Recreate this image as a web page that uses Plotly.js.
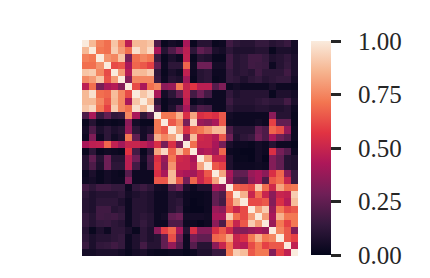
<!DOCTYPE html>
<html>
<head>
<meta charset="utf-8">
<script src="https://cdn.plot.ly/plotly-3.0.1.min.js"></script>
<style>html,body{margin:0;padding:0;background:#fff}</style>
</head>
<body>
<div id="chart" style="width:430px;height:278px"></div>
<script>
// upper triangle of the symmetric matrix: each row starts at its diagonal cell
const r00=[1,.87,.74,.7,.9,.76,.47,.87,.87,.9,.2,.02,.05,.03,.42,.02,.1,.1,.02,.03,.17,.12,.1,.1,.14,.14,.1,.12,.15,.05];
const r01=[1,.72,.7,.92,.8,.7,.97,.87,.95,.42,.1,.2,.32,.47,.12,.25,.2,.07,.05,.12,.08,.08,.08,.1,.1,.02,.07,.07,.05];
const r02=[1,.78,.75,.9,.3,.7,.75,.72,.15,.02,.07,.03,.48,.02,.1,.08,.02,.02,.17,.1,.12,.17,.17,.14,.08,.1,.13,.07];
const r03=[1,.62,.64,.42,.68,.65,.6,.25,.03,.12,.12,.68,.04,.28,.28,.05,.05,.17,.1,.12,.17,.16,.15,.03,.1,.14,.07];
const r04=[1,.8,.45,.88,.87,.92,.13,.02,.07,.04,.48,.03,.1,.12,.03,.03,.14,.1,.12,.1,.17,.12,.12,.12,.17,.07];
const r05=[1,.33,.75,.75,.75,.15,.03,.1,.08,.4,.02,.1,.12,.02,.03,.14,.12,.08,.12,.14,.1,.12,.14,.14,.05];
const r06=[1,.62,.42,.7,.75,.35,.38,.72,.5,.57,.47,.47,.22,.32,.03,.05,.03,.03,.03,.03,.07,.03,.03,.02];
const r07=[1,.9,.97,.42,.05,.12,.25,.5,.18,.28,.18,.03,.03,.13,.08,.1,.1,.1,.1,.02,.08,.08,.05];
const r08=[1,.87,.12,.02,.05,.05,.47,.02,.05,.03,.03,.03,.16,.1,.1,.1,.12,.14,.12,.12,.18,.07];
const r09=[1,.22,.02,.08,.22,.42,.12,.2,.18,.03,.03,.12,.08,.08,.08,.1,.1,.08,.08,.1,.03];
const r10=[1,.72,.72,.85,.55,.82,.55,.58,.55,.65,.05,.03,.03,.03,.03,.03,.35,.1,.1,.02];
const r11=[1,.65,.75,.3,.95,.38,.35,.42,.65,.04,.03,.03,.03,.05,.03,.6,.25,.25,.02];
const r12=[1,.82,.55,.68,.72,.78,.87,.87,.2,.1,.1,.1,.25,.2,.68,.63,.37,.03];
const r13=[1,.33,.88,.52,.5,.45,.65,.28,.08,.12,.15,.28,.2,.42,.28,.22,.03];
const r14=[1,.7,.5,.5,.42,.3,.07,.03,.03,.02,.05,.03,.1,.03,.03,.01];
const r15=[1,.42,.45,.4,.68,.03,.02,.01,.01,.05,.03,.55,.3,.22,.03];
const r16=[1,.82,.5,.5,.08,.02,.02,.01,.05,.01,.33,.25,.1,.08];
const r17=[1,.65,.6,.08,.03,.03,.03,.04,.03,.33,.25,.1,.08];
const r18=[1,.82,.42,.25,.25,.38,.42,.35,.55,.68,.35,.15];
const r19=[1,.38,.2,.18,.35,.42,.2,.65,.7,.5,.15];
const r20=[1,.68,.65,.62,.92,.7,.52,.82,.7,.72];
const r21=[1,.85,.5,.7,.5,.35,.5,.48,.92];
const r22=[1,.62,.62,.65,.33,.55,.45,.88];
const r23=[1,.8,.92,.38,.72,.62,.65];
const r24=[1,.8,.42,.85,.72,.72];
const r25=[1,.38,.72,.6,.72];
const r26=[1,.75,.65,.33];
const r27=[1,.65,.6];
const r28=[1,.48];
const r29=[1];
const upper=[r00,r01,r02,r03,r04,r05,r06,r07,r08,r09,r10,r11,r12,r13,r14,r15,r16,r17,r18,r19,r20,r21,r22,r23,r24,r25,r26,r27,r28,r29];
const tickStep=0.25;
const rocket=[[0,'#03051a'],[1/7,'#35193e'],[2/7,'#701f57'],[3/7,'#ad1759'],[4/7,'#e13342'],[5/7,'#f37651'],[6/7,'#f6b48f'],[1,'#faebdd']];

const z=upper.map((row,i)=>upper.map((_,j)=>j>=i?upper[i][j-i]:upper[j][i-j]));

Plotly.newPlot('chart',[{
  type:'heatmap',z:z,zmin:0,zmax:1,colorscale:rocket,hoverinfo:'skip',
  colorbar:{
    lenmode:'pixels',len:214,thicknessmode:'pixels',thickness:20,
    x:1.06,xanchor:'left',xpad:0,y:0.5,yanchor:'middle',ypad:0,
    outlinewidth:0,borderwidth:0,
    tickmode:'linear',tick0:0,dtick:tickStep,tickformat:'.2f',
    ticks:'outside',ticklen:10,tickwidth:3,tickcolor:'#262626',
    tickfont:{family:'"Liberation Serif",serif',size:25,color:'#262626'},
    tickprefix:'\u2002',showtickprefix:'all'
  }
}],{
  width:430,height:278,
  margin:{l:82,r:132,t:40,b:22,pad:0,autoexpand:false},
  paper_bgcolor:'#fff',plot_bgcolor:'#fff',
  xaxis:{visible:false,range:[-0.5,29.5],fixedrange:true},
  yaxis:{visible:false,range:[29.5,-0.5],fixedrange:true}
},{displayModeBar:false,staticPlot:true});
</script>
</body>
</html>
